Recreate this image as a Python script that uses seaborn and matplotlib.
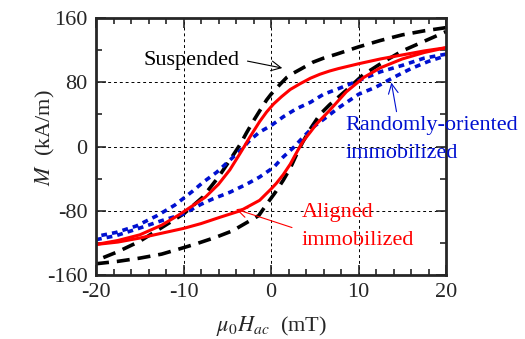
import pandas as pd
import seaborn as sns
import matplotlib.pyplot as plt

# suspended (black dashed) - descending / ascending branches
susp_down_h = [20, 17.5, 15, 12.5, 10, 7.5, 6, 4.8, 3.5, 2.5, 1.8, 1, 0, -0.5, -1.2, -2, -2.8, -3.5, -4.7, -6, -7.8, -10, -12.5, -15, -17.5, -20]
susp_down_m = [148, 144, 139, 132, 124, 115, 110, 105, 97, 91, 86, 77, 65, 58, 46, 32, 17, 3, -17, -38, -63, -84, -101, -118, -131, -142]
susp_up_h = [-20, -17.5, -15, -12.5, -10, -8.5, -6.3, -4.4, -2.5, -1.4, -0.5, 0.5, 1.4, 2.2, 3.0, 3.6, 4.5, 5.6, 6.7, 8.6, 10.5, 12.8, 15, 17.5, 20]
susp_up_m = [-146, -143, -139, -134, -126, -121, -113, -105, -93, -86, -72, -57, -42, -27, -8, 5, 22, 40, 52, 70, 89, 105, 119, 131, 143]

# randomly-oriented immobilized (blue dotted)
rand_down_h = [20, 17.5, 15, 12.5, 10, 7.7, 6, 4.5, 2.9, 1.4, 0, -1.3, -2.4, -3.5, -4.7, -6.2, -7.7, -9, -11, -13, -15.4, -17.7, -20]
rand_down_m = [115, 110, 101, 93, 82, 72, 65, 55, 47, 37, 26, 18, 8, -5, -17, -32, -44, -56, -73, -86, -99, -107, -112]
rand_up_h = [-20, -17.7, -15.4, -12.4, -10, -8, -6.6, -4.7, -2.8, -1.3, 0.3, 1.4, 2.6, 3.7, 4.8, 6.4, 7.7, 10, 12, 14, 16, 18, 20]
rand_up_m = [-116, -111, -103, -92, -84, -72, -65, -57, -47, -38, -26, -13, -1, 12, 24, 37, 48, 65, 74, 86, 97, 106, 113]

# aligned immobilized (red solid)
align_down_h = [20, 17.5, 15, 12.5, 10, 7.7, 6.7, 5.6, 4.5, 3.3, 2.2, 1.2, 0.3, -0.5, -1.3, -2.4, -3.5, -4.7, -6, -7.5, -9, -10.5, -12.5, -15, -17.5, -20]
align_down_m = [123, 119, 114, 109, 103, 97, 94, 90, 85, 78, 71, 62, 53, 43, 31, 12, -8, -29, -47, -63, -74, -85, -98, -110, -117, -122]
align_up_h = [-20, -17.5, -15, -12.5, -10, -8, -5.8, -3.5, -1.3, 0, 0.6, 1.4, 2.2, 3, 3.7, 4.5, 5.2, 6.7, 8.6, 10.6, 12.5, 15, 17.5, 20]
align_up_m = [-122, -119, -114, -108, -102, -96, -88, -80, -67, -53, -46, -35, -22, -6, 7, 18, 28, 45, 68, 86, 98, 109, 117, 123]

x_ticks = [-20, -10, 0, 10, 20]
y_ticks = [-160, -80, 0, 80, 160]

sns.set_style("ticks")
plt.rcParams["font.family"] = ["Liberation Serif", "DejaVu Serif"]
plt.rcParams["mathtext.fontset"] = "stix"
plt.rcParams["axes.unicode_minus"] = False

fig = plt.figure(figsize=(5.25, 3.39), dpi=100)
ax = fig.add_axes([96 / 525, 64 / 339, 350 / 525, 257 / 339])

blue = "#0010d0"
red = "#ff0000"
branches = [
    (susp_down_h, susp_down_m, "black", (0, (3.6, 2.2)), 2.6),
    (susp_up_h, susp_up_m, "black", (0, (3.6, 2.2)), 2.6),
    (rand_down_h, rand_down_m, blue, (0, (1.6, 1.4)), 2.6),
    (rand_up_h, rand_up_m, blue, (0, (1.6, 1.4)), 2.6),
    (align_down_h, align_down_m, red, "-", 2.2),
    (align_up_h, align_up_m, red, "-", 2.2),
]
for h, m, col, ls, lw in branches:
    df = pd.DataFrame({"H": h, "M": m})
    sns.lineplot(data=df, x="H", y="M", sort=False, ax=ax, color=col,
                 linestyle=ls, linewidth=lw, estimator=None)

ax.set_xlim(-20, 20)
ax.set_ylim(-160, 160)
ax.set_xticks(x_ticks)
ax.set_yticks(y_ticks)
ax.set_xticks(range(-20, 21, 2), minor=True)
ax.set_yticks(range(-160, 161, 40), minor=True)
ax.tick_params(which="both", direction="in", top=True, right=True, labelsize=16, width=1.2)
ax.tick_params(which="major", length=7, pad=6)
ax.tick_params(which="minor", length=4.5)
ax.tick_params(axis="y", pad=6)
for s in ax.spines.values():
    s.set_linewidth(2.0)
ax.grid(True, which="major", color="black", linestyle=(0, (3, 3)), linewidth=0.7)
ax.set_xlabel("")
ax.set_ylabel("")

# annotations
arrow = "->,head_length=0.7,head_width=0.35"
ax.text(-14.6, 107, "Suspended", fontsize=16, color="black", ha="left", va="center")
ax.annotate("", xy=(1.6, 97), xytext=(-3.0, 107),
            arrowprops=dict(arrowstyle=arrow, color="black", lw=0.8))

ax.text(8.5, 26, "Randomly-oriented", fontsize=16, color=blue, ha="left", va="center")
ax.text(8.5, -9, "immobilized", fontsize=16, color=blue, ha="left", va="center")
ax.annotate("", xy=(13.7, 83), xytext=(14.4, 40),
            arrowprops=dict(arrowstyle=arrow, color=blue, lw=0.8))

ax.text(3.5, -82, "Aligned", fontsize=16, color=red, ha="left", va="center")
ax.text(3.5, -117, "immobilized", fontsize=16, color=red, ha="left", va="center")
ax.annotate("", xy=(-4.3, -77), xytext=(2.7, -102),
            arrowprops=dict(arrowstyle=arrow, color=red, lw=0.8))

fig.text(45 / 525, 1 - 138 / 339, "$M$  (kA/m)", fontsize=16, rotation=90, ha="center", va="center")
fig.text(271 / 525, 1 - 331 / 339, r"$\mu_0H_{ac}$  (mT)", fontsize=16, ha="center", va="baseline")

fig.savefig("out.png", dpi=100)
